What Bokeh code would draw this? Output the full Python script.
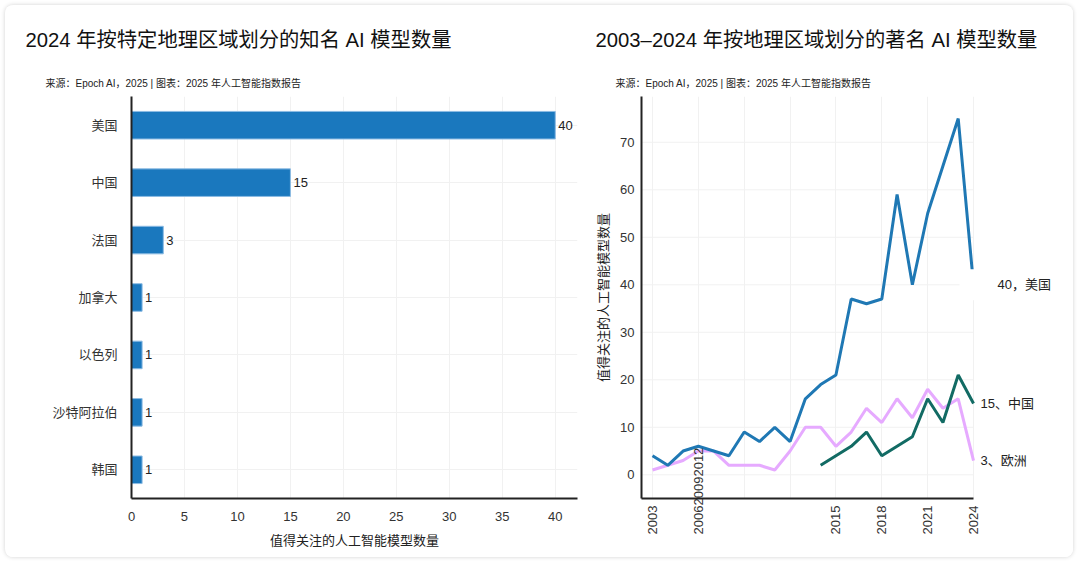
import math
from bokeh.plotting import figure
from bokeh.models import FactorRange, Range1d, FixedTicker, Label, Title, ColumnDataSource
from bokeh.layouts import row
from bokeh.core.properties import value
from bokeh.embed import file_html
from bokeh.resources import INLINE

FONT = "Liberation Sans, Noto Sans CJK SC"

# ---------------- data ----------------
left_title = "2024 年按特定地理区域划分的知名 AI 模型数量"
right_title = "2003–2024 年按地理区域划分的著名 AI 模型数量"
source_text = "来源：Epoch AI，2025 | 图表：2025 年人工智能指数报告"
axis_title = "值得关注的人工智能模型数量"

countries = ["美国", "中国", "法国", "加拿大", "以色列", "沙特阿拉伯", "韩国"]
counts_2024 = [40, 15, 3, 1, 1, 1, 1]
bar_ticks = [0, 5, 10, 15, 20, 25, 30, 35, 40]

years = list(range(2003, 2025))
us = [4, 2, 5, 6, 5, 4, 9, 7, 10, 7, 16, 19, 21, 37, 36, 37, 59, 40, 55, 65, 75, 40]
europe = [1, 2, 3, 5, 5, 2, 2, 2, 1, 5, 10, 10, 6, 9, 14, 11, 16, 12, 18, 14, 16, 3]
china_years = list(range(2014, 2025))
china = [2, 4, 6, 9, 4, 6, 8, 16, 11, 21, 15]
year_ticks = [2003, 2006, 2009, 2012, 2015, 2018, 2021, 2024]
count_ticks = [0, 10, 20, 30, 40, 50, 60, 70]
hidden_year_labels = [2009, 2012]

BAR = "#1a78be"
C_US = "#1f78b4"
C_EU = "#e6aaff"
C_CN = "#126b64"
TXT = "#333333"
GRID = "#f1f1f1"

FRAME_H = 402
TOP, BOTTOM = 91, 59


def style_axes(p):
    for ax in (p.xaxis, p.yaxis):
        ax.axis_line_width = 2
        ax.axis_line_color = "#222222"
        ax.major_tick_line_color = None
        ax.minor_tick_line_color = None
        ax.major_tick_out = 0
        ax.major_tick_in = 0
        ax.major_label_text_font = FONT
        ax.major_label_text_font_size = "13px"
        ax.major_label_text_color = TXT
        ax.axis_label_text_font = FONT
        ax.axis_label_text_font_size = "13px"
        ax.axis_label_text_font_style = "normal"
        ax.axis_label_text_color = "#222222"
    p.xgrid.grid_line_color = GRID
    p.ygrid.grid_line_color = GRID
    p.outline_line_color = None


def add_titles(p, main, off_main, off_src):
    p.add_layout(Title(text=source_text, text_font=FONT, text_font_size="10px",
                       text_font_style="normal", text_color="#222222",
                       align="left", offset=off_src, standoff=16), "above")
    p.add_layout(Title(text=main, text_font=FONT, text_font_size="20.3px",
                       text_font_style="normal", text_color="#111111",
                       align="left", offset=off_main, standoff=33), "above")


# ---------------- left: horizontal bars ----------------
src = ColumnDataSource(dict(country=countries, count=counts_2024,
                            label=[str(c) for c in counts_2024]))

p1 = figure(frame_width=446, frame_height=FRAME_H,
            y_range=FactorRange(*reversed(countries)),
            x_range=Range1d(0, 42.1), output_backend="svg", toolbar_location=None,
            title=None, min_border_left=126, min_border_right=8,
            min_border_top=TOP, min_border_bottom=BOTTOM)
p1.hbar(y="country", right="count", left=0, height=0.48, source=src,
        fill_color=BAR, line_color="#8cbbe3", line_width=1)
p1.text(x="count", y="country", text="label", source=src, x_offset=3,
        text_baseline="middle", text_align="left", text_color="#222222",
        text_font=value(FONT), text_font_size="13px")

p1.xaxis.ticker = FixedTicker(ticks=bar_ticks)
p1.xaxis.axis_label = axis_title
style_axes(p1)
p1.xaxis.major_label_standoff = 13
p1.xaxis.axis_label_standoff = 9
p1.yaxis.major_label_standoff = 14
add_titles(p1, left_title, -106, -86)

# ---------------- right: lines ----------------
X0, XLAST, XEND = 2002.28, years[-1], 2029.56
YMIN, YMAX = -4.99, 79.64
XSTANDOFF = 7
p2 = figure(frame_width=417, frame_height=FRAME_H, x_range=Range1d(X0, XEND),
            y_range=Range1d(YMIN, YMAX), output_backend="svg",
            toolbar_location=None, title=None,
            min_border_left=56, min_border_right=15,
            min_border_top=TOP, min_border_bottom=BOTTOM)
p2.ygrid.visible = False
p2.segment(x0=[X0] * len(count_ticks), x1=[XLAST] * len(count_ticks),
           y0=count_ticks, y1=count_ticks, line_color=GRID, line_width=1)
p2.line(years, europe, line_color=C_EU, line_width=3)
p2.line(years, us, line_color=C_US, line_width=3)
p2.line(china_years, china, line_color=C_CN, line_width=3)

p2.xaxis.ticker = FixedTicker(ticks=year_ticks)
p2.xaxis.bounds = (X0, XLAST)
p2.xaxis.major_label_overrides = {y: "" for y in hidden_year_labels}
p2.xaxis.major_label_orientation = math.pi / 2
p2.yaxis.ticker = FixedTicker(ticks=count_ticks)
p2.yaxis.axis_label = axis_title
style_axes(p2)
p2.xaxis.major_label_standoff = XSTANDOFF
p2.yaxis.major_label_standoff = 7
p2.yaxis.axis_label_standoff = 6

# overlapping tick-label artefact of the original (2009 and 2012 drawn above 2006)
p2.add_layout(Label(x=year_ticks[1], y=YMIN, y_offset=-XSTANDOFF, angle=math.pi / 2,
                    text="".join(str(y) for y in hidden_year_labels),
                    text_align="left", text_baseline="middle",
                    text_font=FONT, text_font_size="13px", text_color=TXT), "right")

p2.add_layout(Label(x=years[-1], y=us[-1], x_offset=-14, text=f"{us[-1]}，美国",
                    text_baseline="middle", text_font=FONT, text_font_size="13px",
                    text_color="#222222", background_fill_color="white",
                    padding=dict(left=38, right=4, top=8, bottom=8)))
p2.add_layout(Label(x=china_years[-1], y=china[-1], x_offset=7, text=f"{china[-1]}、中国",
                    text_baseline="middle", text_font=FONT, text_font_size="13px",
                    text_color="#222222"))
p2.add_layout(Label(x=years[-1], y=europe[-1], x_offset=7, text=f"{europe[-1]}、欧洲",
                    text_baseline="middle", text_font=FONT, text_font_size="13px",
                    text_color="#222222"))
add_titles(p2, right_title, -46, -26)

layout = row(p1, p2, styles={"border-radius": "8px", "overflow": "hidden",
                             "margin-left": "5px", "margin-top": "5px",
                             "box-shadow": "0 0 4px rgba(0,0,0,0.18)",
                             "background-color": "white"})

open("out.html", "w").write(file_html(layout, INLINE))
